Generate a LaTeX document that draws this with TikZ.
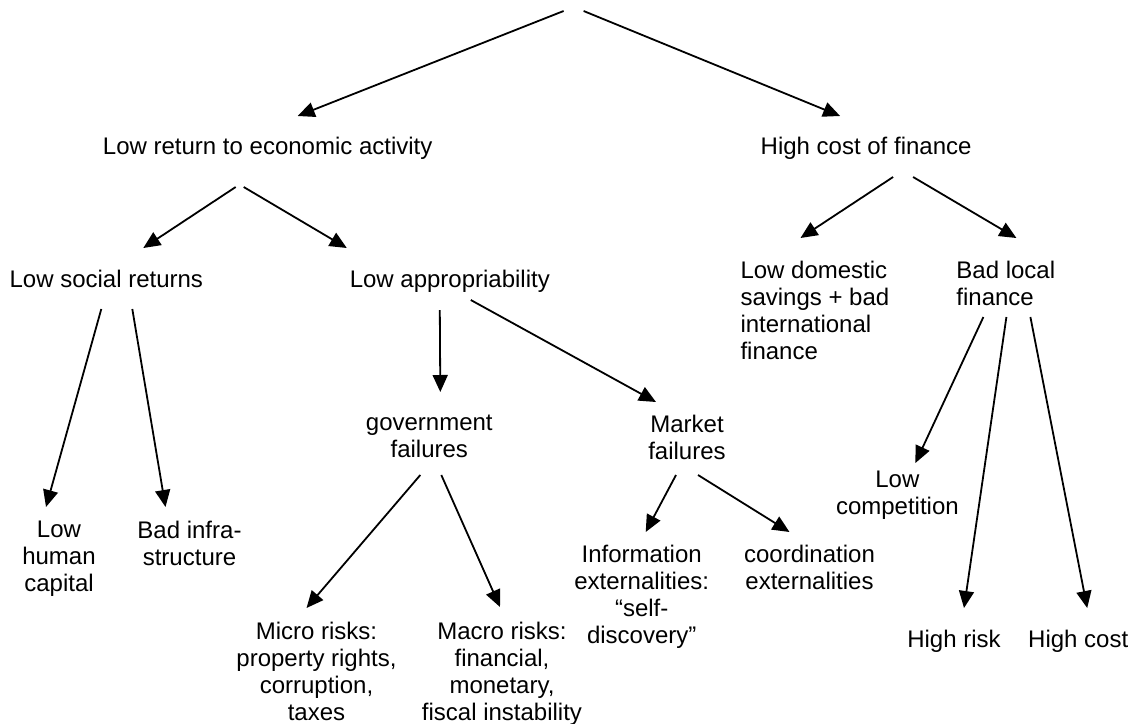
\documentclass[tikz,border=0pt]{standalone}
\usepackage{fontspec}
\setmainfont{Liberation Sans}
\usepackage{tikz}
\usetikzlibrary{arrows.meta}
\tikzset{lbl/.style={inner sep=0pt, outer sep=0pt, font=\fontsize{12}{13.5}\selectfont},
  lblc/.style={lbl, anchor=north, align=center},
  lbll/.style={lbl, anchor=north west, align=left},
  arr/.style={-{Triangle[length=8.5pt,width=7.5pt]}, line width=0.9pt}}
\begin{document}
\begin{tikzpicture}[x=0.5pt, y=-0.5pt]
\useasboundingbox (0,0) rectangle (1139,723);
\coordinate (root) at (573.6,11);
\node[lblc] (ret) at (267.7,137) {Low return to economic activity};
\node[lblc] (fin) at (866.1,137) {High cost of finance};
\node[lblc] (soc) at (106.3,270) {Low social returns};
\node[lblc] (app) at (449.8,270) {Low appropriability};
\node[lbll] (sav) at (740.5,261) {Low domestic\\savings + bad\\international\\finance};
\node[lbll] (loc) at (956.4,261) {Bad local\\finance};
\node[lblc] (hum) at (59,521) {Low\\human\\capital};
\node[lblc] (inf) at (189.5,521) {Bad infra-\\structure};
\node[lblc] (gov) at (429.3,415) {government\\failures};
\node[lblc] (mkt) at (687,415) {Market\\failures};
\node[lblc] (mic) at (316.5,622) {Micro risks:\\property rights,\\corruption,\\taxes};
\node[lblc] (mac) at (502,622) {Macro risks:\\financial,\\monetary,\\fiscal instability};
\node[lblc] (infx) at (641.7,545) {Information\\externalities:\\“self-\\discovery”};
\node[lblc] (coo) at (809.5,545) {coordination\\externalities};
\node[lblc] (com) at (897.4,471) {Low\\competition};
\node[lblc] (rsk) at (954,630) {High risk};
\node[lblc] (cst) at (1078.2,630) {High cost};
\draw[arr] ([shift={(-10,0)}]root) -- ([shift={(30,-21)}]ret.north);
\draw[arr] ([shift={(10,0)}]root) -- ([shift={(-26,-21)}]fin.north);
\draw[arr] ([shift={(-32,50)}]ret.north) -- ([shift={(37,-22)}]soc.north);
\draw[arr] ([shift={(-24,50)}]ret.north) -- ([shift={(-103,-22)}]app.north);
\draw[arr] ([shift={(27,40)}]fin.north) -- ([shift={(60,-23)}]sav.north west);
\draw[arr] ([shift={(47,40)}]fin.north) -- ([shift={(60,-23)}]loc.north west);
\draw[arr] ([shift={(-5,39)}]soc.north) -- ([shift={(-13,-14)}]hum.north);
\draw[arr] ([shift={(26,39)}]soc.north) -- ([shift={(-24,-14)}]inf.north);
\draw[arr] ([shift={(-10,40)}]app.north) -- ([shift={(11,-23)}]gov.north);
\draw[arr] ([shift={(21,30)}]app.north) -- ([shift={(-31,-13)}]mkt.north);
\draw[arr] ([shift={(-9,60)}]gov.north) -- ([shift={(-10,-14)}]mic.north);
\draw[arr] ([shift={(12,60)}]gov.north) -- ([shift={(-2,-15)}]mac.north);
\draw[arr] ([shift={(-11,60)}]mkt.north) -- ([shift={(4,-13)}]infx.north);
\draw[arr] ([shift={(11,60)}]mkt.north) -- ([shift={(-20,-13)}]coo.north);
\draw[arr] ([shift={(27,56)}]loc.north west) -- ([shift={(18,-8)}]com.north);
\draw[arr] ([shift={(50,56)}]loc.north west) -- ([shift={(10,-22)}]rsk.north);
\draw[arr] ([shift={(74,56)}]loc.north west) -- ([shift={(9,-22)}]cst.north);
\end{tikzpicture}
\end{document}
